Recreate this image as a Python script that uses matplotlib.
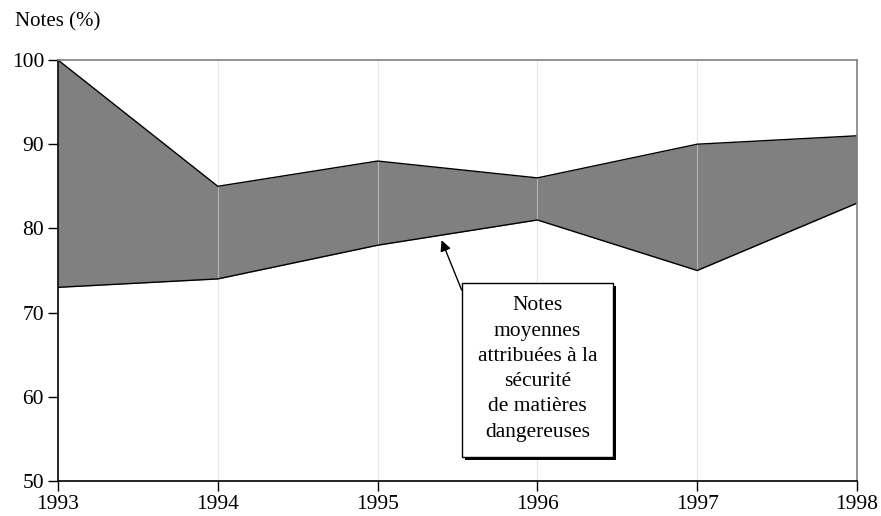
import matplotlib
matplotlib.use("Agg")
import matplotlib.pyplot as plt
from matplotlib.patches import Rectangle

years = [1993, 1994, 1995, 1996, 1997, 1998]
upper = [100, 85, 88, 86, 90, 91]
lower = [73, 74, 78, 81, 75, 83]
yticks = [50, 60, 70, 80, 90, 100]
ylabel = "Notes (%)"
note = "Notes\nmoyennes\nattribuées à la\nsécurité\nde matières\ndangereuses"

plt.rcParams['font.family'] = ['Liberation Serif', 'DejaVu Serif']

fig = plt.figure(figsize=(8.81, 5.16), dpi=100)
ax = fig.add_axes([58/881, 1-481/516, (857-58)/881, (481-60)/516])

ax.fill_between(years, lower, upper, color='#808080', zorder=1, linewidth=0)
ax.plot(years, upper, color='black', lw=1.0, zorder=3)
ax.plot(years, lower, color='black', lw=1.0, zorder=3)
for y in years[1:-1]:
    ax.axvline(y, color='#d8d8d8', lw=0.8, zorder=2, alpha=0.6)

ax.set_xlim(1993, 1998)
ax.set_ylim(50, 100)
ax.set_xticks(years)
ax.set_xticklabels([str(y) for y in years], fontsize=15.5)
ax.set_yticks(yticks)
ax.set_yticklabels([str(v) for v in yticks], fontsize=15.5)
ax.tick_params(axis='both', direction='out', length=7, width=1, color='black', pad=3)
ax.spines['left'].set_color('black')
ax.spines['bottom'].set_color('black')
ax.spines['top'].set_color('#808080')
ax.spines['right'].set_color('#808080')
for s in ax.spines.values():
    s.set_linewidth(1.2)
    s.set_zorder(4)

fig.text(15/881, 1-22/516, ylabel, fontsize=15, ha='left', va='center')

# shadow of the box
ax.add_patch(Rectangle((465/881, 1-460/516), (613-462)/881, (457-283)/516,
                       transform=fig.transFigure, fc='black', ec='none',
                       zorder=5, clip_on=False))
# box
ax.add_patch(Rectangle((462/881, 1-457/516), (613-462)/881, (457-283)/516,
                       transform=fig.transFigure, fc='white', ec='black', lw=1.0,
                       zorder=6, clip_on=False))

ax.text(537.5/881, 1-369/516, note, transform=fig.transFigure,
        fontsize=15.5, ha='center', va='center', linespacing=1.45, zorder=7)
ax.annotate('', xy=(1995.40, 78.6), xytext=(1995.526, 72.68),
            arrowprops=dict(arrowstyle='-|>', color='black', lw=1.0,
                            mutation_scale=16, shrinkA=0, shrinkB=0),
            zorder=7)

fig.savefig('out.png', dpi=100)
